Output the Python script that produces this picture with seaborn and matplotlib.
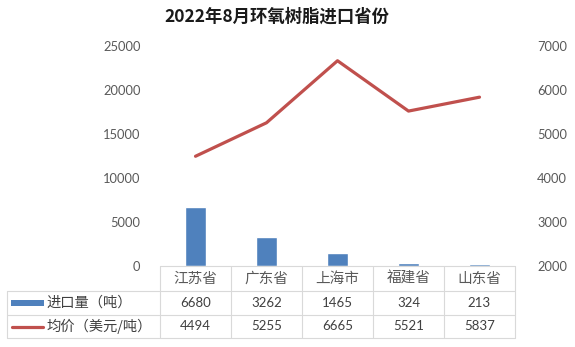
import numpy as np
import pandas as pd
import matplotlib
matplotlib.use("Agg")
import matplotlib.pyplot as plt
from matplotlib.transforms import blended_transform_factory
from matplotlib.patches import Rectangle
from matplotlib.lines import Line2D
import seaborn as sns

title = "2022年8月环氧树脂进口省份"
categories = ["江苏省", "广东省", "上海市", "福建省", "山东省"]
volume = [6680, 3262, 1465, 324, 213]
price = [4494, 5255, 6665, 5521, 5837]
series_names = ["进口量（吨）", "均价（美元/吨）"]
left_ticks = [0, 5000, 10000, 15000, 20000, 25000]
right_ticks = [2000, 3000, 4000, 5000, 6000, 7000]

BLUE = "#4F81BD"
RED = "#C0504D"
GRID = "#D9D9D9"
TXT = "#595959"

sns.set_theme(style="white")
plt.rcParams["font.family"] = ["Lato", "Noto Sans CJK SC", "DejaVu Sans"]

W, H = 575, 347
fig = plt.figure(figsize=(W / 100, H / 100), dpi=100)

def fx(px):
    return px / W

def fy(py):
    return 1 - py / H

ax = fig.add_axes([fx(160), fy(266), fx(515) - fx(160), fy(46) - fy(266)])
df = pd.DataFrame({"cat": categories, "vol": volume, "price": price})
sns.barplot(data=df, x="cat", y="vol", color=BLUE, width=0.3, ax=ax, saturation=1)
ax.set_xlim(-0.5, len(categories) - 0.5)
ax.set_ylim(left_ticks[0], left_ticks[-1])
ax.set_yticks(left_ticks)
ax.set_xticks([])
ax.set_xlabel("")
ax.set_ylabel("")
ax.tick_params(axis="y", which="both", left=False, length=0, pad=14,
               labelsize=9.3, labelcolor=TXT)
for s in ax.spines.values():
    s.set_visible(False)

ax2 = ax.twinx()
xpos = np.arange(len(categories))
sns.lineplot(x=xpos, y=price, ax=ax2, color=RED, linewidth=2.3)
ax2.set_ylim(right_ticks[0], right_ticks[-1])
ax2.set_yticks(right_ticks)
ax2.set_xlim(-0.5, len(categories) - 0.5)
ax2.set_xticks([])
ax2.tick_params(axis="y", which="both", left=False, right=False, length=0, pad=16,
                labelsize=9.3, labelcolor=TXT)
for s in ax2.spines.values():
    s.set_visible(False)

fig.text(fx(277), fy(17), title, ha="center", va="center", fontsize=12.5,
         fontweight="bold", color="#1a1a1a", family=["Noto Sans CJK SC", "DejaVu Sans"])

# data table
y_top, y_r1, y_r2, y_bot = 266, 291, 315, 338
x_left = 7
bt = blended_transform_factory(ax.transData, fig.transFigure)
lw = 0.8
fig.add_artist(Line2D([fx(160), fx(515)], [fy(y_top)] * 2, color=GRID, lw=lw))
for yy in (y_r1, y_r2, y_bot):
    fig.add_artist(Line2D([fx(x_left), fx(515)], [fy(yy)] * 2, color=GRID, lw=lw))
fig.add_artist(Line2D([fx(x_left)] * 2, [fy(y_r1), fy(y_bot)], color=GRID, lw=lw))
for i in range(len(categories) + 1):
    fig.add_artist(Line2D([i - 0.5] * 2, [fy(y_top), fy(y_bot)], color=GRID, lw=lw,
                          transform=bt))

ymid_h = fy((y_top + y_r1) / 2)
ymid_1 = fy((y_r1 + y_r2) / 2)
ymid_2 = fy((y_r2 + y_bot) / 2)
for i, c in enumerate(categories):
    fig.text(i, ymid_h, c, transform=bt, ha="center", va="center", fontsize=10.5,
             color=TXT, family=["Noto Sans CJK SC"], fontweight="light")
    fig.text(i, ymid_1, str(volume[i]), transform=bt, ha="center", va="center",
             fontsize=9.5, color="#404040")
    fig.text(i, ymid_2, str(price[i]), transform=bt, ha="center", va="center",
             fontsize=9.5, color="#404040")

fig.add_artist(Rectangle((fx(11), ymid_1 - 3 / H), fx(44) - fx(11), 6 / H,
                         transform=fig.transFigure, color=BLUE, lw=0))
fig.add_artist(Line2D([fx(12), fx(43)], [ymid_2] * 2, color=RED, lw=2.3,
                      solid_capstyle="round"))
fig.text(fx(46), ymid_1, series_names[0], ha="left", va="center", fontsize=10.3,
         color="#404040", family=["Noto Sans CJK SC"])
fig.text(fx(46), ymid_2, series_names[1], ha="left", va="center", fontsize=10.3,
         color="#404040", family=["Noto Sans CJK SC"])

fig.savefig("out.png", dpi=100)
